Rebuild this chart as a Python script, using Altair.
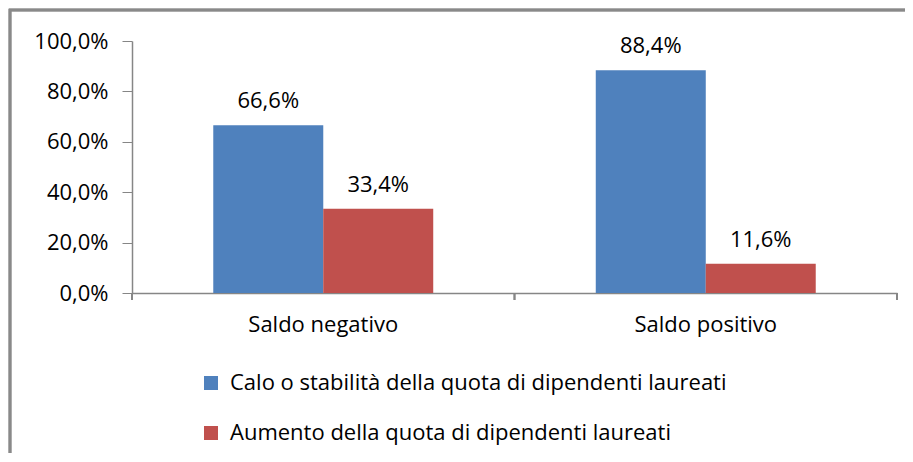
import altair as alt
import pandas as pd

groups = ["Saldo negativo", "Saldo positivo"]
series = ["Calo o stabilità della quota di dipendenti laureati",
          "Aumento della quota di dipendenti laureati"]
calo = [66.6, 88.4]
aumento = [33.4, 11.6]
colors = ["#4F81BD", "#C0504D"]

rows = []
for i, g in enumerate(groups):
    rows.append({"gruppo": g, "serie": series[0], "valore": calo[i]})
    rows.append({"gruppo": g, "serie": series[1], "valore": aumento[i]})
df = pd.DataFrame(rows)
df["etichetta"] = df["valore"].map(lambda v: f"{v:.1f}".replace(".", ",") + "%")

W, H = 765, 252
FONT = "Open Sans"
FS = 22

x = alt.X("gruppo:N", sort=groups, title=None,
          scale=alt.Scale(paddingInner=0.425, paddingOuter=0.2125),
          axis=alt.Axis(labelAngle=0, labelFontSize=FS, labelFont=FONT, labelColor="#000",
                        ticks=False, domainColor="#868686", domainWidth=1.5,
                        labelPadding=21))
xo = alt.XOffset("serie:N", sort=series)
y = alt.Y("valore:Q", title=None,
          scale=alt.Scale(domain=[0, 100]),
          axis=alt.Axis(values=[0, 20, 40, 60, 80, 100], grid=False,
                        labelExpr="replace(format(datum.value,'.1f'),'.',',') + '%'",
                        labelFontSize=FS, labelFont=FONT, labelColor="#000",
                        tickSize=10, tickColor="#868686", domainColor="#868686",
                        domainWidth=1.5, labelPadding=14))
color = alt.Color("serie:N", sort=series, title=None,
                  scale=alt.Scale(domain=series, range=colors),
                  legend=alt.Legend(orient="none", legendX=68, legendY=331,
                                    direction="vertical", symbolType="square",
                                    symbolSize=196, symbolStrokeWidth=0,
                                    labelFontSize=FS, labelFont=FONT, labelColor="#000",
                                    labelLimit=0, rowPadding=28, labelOffset=8))

base = alt.Chart(df)
bars = base.mark_bar(size=110).encode(x=x, xOffset=xo, y=y, color=color)
labels = base.mark_text(fontSize=FS, font=FONT, baseline="alphabetic", dy=-17, color="#000").encode(
    x=x, xOffset=xo, y=y, text="etichetta:N")

frame = base.mark_rect(fill=None, stroke="#898989", strokeWidth=2.5).encode(
    x=alt.value(-122), x2=alt.value(W + 100), y=alt.value(-31), y2=alt.value(H + 250))

ticks = [base.mark_rule(color="#868686", strokeWidth=1.5).encode(
    x=alt.value(px), y=alt.value(H), y2=alt.value(H + 7)) for px in (0, W / 2, W)]

chart = alt.layer(frame, bars, labels, *ticks).properties(
    width=W, height=H,
    background="white",
    autosize=alt.AutoSizeParams(type="none"),
    padding={"left": 124, "top": 33, "right": 8, "bottom": 160},
).configure_view(strokeWidth=0)

chart.save("out.html", embed_options={"renderer": "svg", "actions": False})
